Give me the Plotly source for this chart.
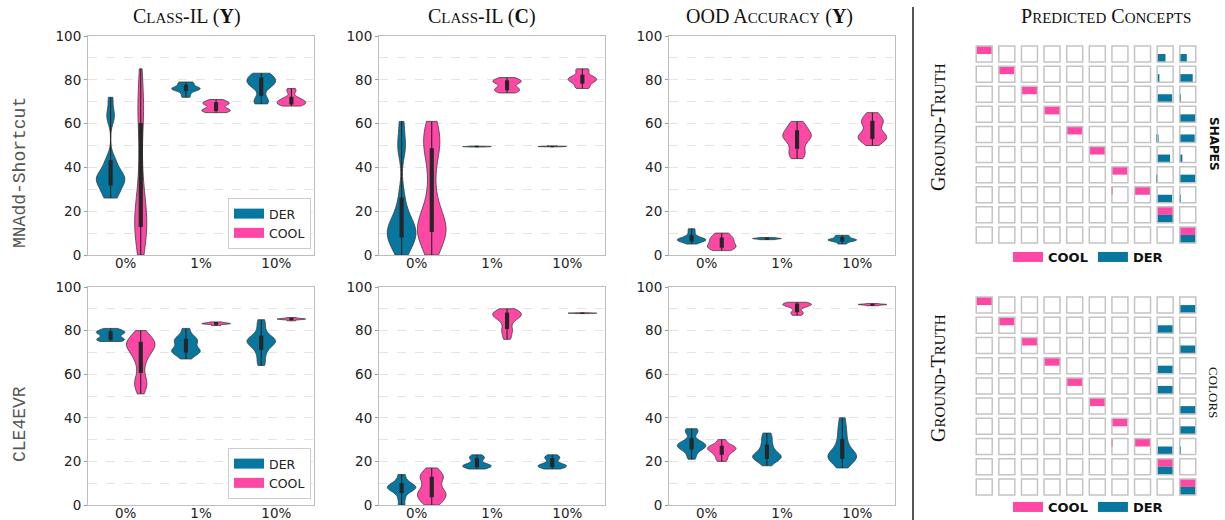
import statistics
import plotly.graph_objects as go

W, H = 1225, 520
DER_C = "#07779f"
COOL_C = "#ff48a5"

categories = ["0%", "1%", "10%"]
methods = ["DER", "COOL"]
row_labels = ["MNAdd-Shortcut", "CLE4EVR"]

# ---- violin samples (estimated per-run accuracies), one list per category ----
mnadd_cil_y_der = [[26, 27, 29, 31, 33, 34, 34.5, 35, 36, 37, 39, 42, 44, 62, 65, 72],
                   [72, 73.5, 75, 75.5, 76, 76, 76.5, 77.5, 78.5, 79],
                   [69, 70, 72, 76, 77.5, 78.5, 79, 80, 81, 82, 83]]
mnadd_cil_y_cool = [[0, 5, 10, 12, 14, 15, 17, 20, 25, 30, 40, 55, 65, 68, 72, 85],
                    [65, 65.5, 66, 66.5, 67, 68.5, 69, 69.5, 70, 71],
                    [68, 68.5, 69, 69.5, 70, 70.5, 71, 72, 74.5, 76]]
mnadd_cil_c_der = [[0, 3, 6, 8, 9, 10, 11, 12, 14, 17, 20, 28, 48, 51, 61],
                   [49.3, 49.4, 49.5, 49.5, 49.6, 49.7],
                   [49.4, 49.5, 49.5, 49.6, 49.6, 49.8]]
mnadd_cil_c_cool = [[0, 5, 8, 10, 11, 12, 13, 15, 18, 22, 30, 40, 48, 50, 53, 56, 61],
                    [74, 74.8, 75.5, 76, 77, 78.5, 79, 79.5, 80, 81],
                    [76, 77, 78.5, 79.5, 80, 80.5, 81, 82, 84, 85]]
mnadd_ood_der = [[5, 6, 6.3, 6.6, 7, 7.2, 7.5, 8, 9, 10.5, 12],
                 [7, 7.2, 7.4, 7.5, 7.6, 7.8, 8],
                 [5, 6, 6.5, 6.8, 7, 7.2, 7.8, 8.5, 9]]
mnadd_ood_cool = [[2, 3, 3.8, 4.5, 5.5, 6.5, 7.5, 8.5, 10],
                  [44, 46, 47.5, 50, 52, 53.5, 54, 55, 56, 57.5, 59, 61],
                  [50, 52, 53, 53.5, 54.5, 55.5, 57, 59.5, 60.5, 61.5, 63, 65]]

cle_cil_y_der = [[75, 75.5, 76, 76.5, 77.5, 78.5, 79, 79.5, 80, 81],
                 [67, 69, 70, 70.5, 71, 72, 73.5, 75, 75.5, 76.5, 78, 81],
                 [64, 67, 70, 72, 73.5, 74.5, 75, 75.5, 76, 77, 79, 82, 85]]
cle_cil_y_cool = [[51, 55, 56, 57, 62, 66, 68, 70, 71.5, 72.5, 73, 74, 74.5, 75, 76, 77, 80],
                  [82.3, 82.9, 83.1, 83.2, 83.4, 83.6, 84],
                  [84.5, 85, 85.2, 85.3, 85.4, 85.6, 86]]
cle_cil_c_der = [[0, 3, 5.5, 6.5, 7.5, 8, 8.5, 9, 10, 11.5, 14],
                 [16.5, 17, 17.5, 18, 18, 18.5, 19, 20.5, 21.5, 22, 23],
                 [16.5, 17, 17.5, 18, 18, 18.5, 19, 20.5, 21.5, 22, 23]]
cle_cil_c_cool = [[0, 1.5, 3, 4, 5, 6, 7, 9, 11, 12.5, 13.5, 14.5, 17],
                  [76, 78, 80, 81, 83.5, 85, 86, 86.5, 87, 87.5, 88, 88.5, 89, 90],
                  [87.8, 87.9, 88, 88, 88.1, 88.2]]
cle_ood_der = [[21, 23, 25, 26, 26.5, 27, 27.5, 28, 28.5, 29.5, 33, 34, 35],
               [18, 20, 21, 21.5, 22, 22.5, 23, 24, 25.5, 27, 29, 31, 33],
               [17, 19, 20.5, 21.5, 22, 22.5, 23, 24, 25.5, 27.5, 30, 33, 36, 40]]
cle_ood_cool = [[20, 21.5, 23, 24, 25, 25.5, 26, 26.5, 27, 28, 30],
                [87, 88, 88.7, 90.5, 91.3, 91.7, 92, 92.2, 92.5, 93],
                [91.4, 91.7, 91.9, 92, 92.1, 92.4]]

# ---- predicted-concept confusion (rows: ground truth, cols: predicted) ----
shapes_cool = [
    [0.96, 0.02, 0, 0, 0, 0, 0, 0, 0, 0],
    [0.02, 0.96, 0, 0, 0, 0, 0, 0, 0, 0],
    [0, 0, 0.96, 0, 0, 0, 0, 0, 0, 0],
    [0, 0, 0, 0.98, 0, 0, 0, 0, 0, 0],
    [0.02, 0, 0, 0, 0.96, 0.02, 0, 0, 0, 0],
    [0, 0, 0, 0, 0.02, 0.96, 0, 0, 0, 0],
    [0, 0, 0, 0, 0, 0, 0.96, 0.02, 0, 0],
    [0, 0, 0, 0, 0, 0, 0.02, 0.96, 0, 0],
    [0, 0, 0, 0, 0, 0, 0, 0, 1.0, 0],
    [0, 0, 0, 0, 0, 0, 0, 0, 0, 1.0],
]
shapes_der = [
    [0, 0, 0, 0, 0, 0, 0, 0, 0.52, 0.44],
    [0, 0, 0, 0, 0, 0, 0, 0, 0.15, 0.80],
    [0, 0, 0, 0, 0, 0, 0, 0, 0.92, 0.06],
    [0, 0, 0, 0, 0, 0, 0, 0, 0, 0.98],
    [0, 0, 0, 0, 0, 0, 0, 0, 0.10, 0.92],
    [0, 0, 0, 0, 0, 0, 0, 0, 0.80, 0.17],
    [0, 0, 0, 0, 0, 0, 0, 0, 0.03, 0.94],
    [0, 0, 0, 0, 0, 0, 0, 0, 0.92, 0.06],
    [0, 0, 0, 0, 0, 0, 0, 0, 1.0, 0],
    [0, 0, 0, 0, 0, 0, 0, 0, 0, 1.0],
]
colors_cool = [
    [1.0, 0, 0, 0, 0, 0, 0, 0, 0, 0],
    [0, 0.98, 0, 0, 0, 0, 0, 0, 0, 0],
    [0, 0, 1.0, 0, 0, 0, 0, 0, 0, 0],
    [0, 0, 0, 1.0, 0, 0, 0, 0, 0, 0],
    [0.02, 0, 0, 0, 0.96, 0, 0, 0, 0, 0],
    [0, 0, 0, 0, 0.02, 0.96, 0, 0, 0, 0],
    [0, 0, 0, 0, 0, 0, 0.98, 0, 0, 0],
    [0, 0, 0, 0, 0, 0, 0.02, 0.98, 0, 0],
    [0, 0, 0, 0, 0, 0, 0, 0, 1.0, 0],
    [0, 0, 0, 0, 0, 0, 0, 0, 0, 1.0],
]
colors_der = [
    [0, 0, 0, 0, 0, 0, 0, 0, 0, 1.0],
    [0, 0, 0, 0, 0, 0, 0, 0, 1.0, 0],
    [0, 0, 0, 0, 0, 0, 0, 0, 0, 1.0],
    [0, 0, 0, 0, 0, 0, 0, 0, 1.0, 0],
    [0, 0, 0, 0, 0, 0, 0, 0, 1.0, 0],
    [0, 0, 0, 0, 0, 0, 0, 0, 0, 1.0],
    [0, 0, 0, 0, 0, 0, 0, 0, 0, 1.0],
    [0, 0, 0, 0, 0, 0, 0, 0, 0.95, 0.05],
    [0, 0, 0, 0, 0, 0, 0, 0, 1.0, 0],
    [0, 0, 0, 0, 0, 0, 0, 0, 0, 1.0],
]

SC = "<span style='font-size:15px'>{}</span>"
col_titles = ["C" + SC.format("LASS") + "-IL (<b>Y</b>)",
              "C" + SC.format("LASS") + "-IL (<b>C</b>)",
              "OOD A" + SC.format("CCURACY") + " (<b>Y</b>)"]
matrix_title = "P" + SC.format("REDICTED") + " C" + SC.format("ONCEPTS")
gt_label = "G" + SC.format("ROUND") + "-T" + SC.format("RUTH")

panels = [
    (mnadd_cil_y_der, mnadd_cil_y_cool), (mnadd_cil_c_der, mnadd_cil_c_cool), (mnadd_ood_der, mnadd_ood_cool),
    (cle_cil_y_der, cle_cil_y_cool), (cle_cil_c_der, cle_cil_c_cool), (cle_ood_der, cle_ood_cool),
]

col_px = [(88, 314), (379, 605), (669, 895)]
row_px = [(36, 255), (287, 505)]


def fx(p):
    return p / W


def fy(p):
    return min(1.0, 1 - p / H)


def kde_bw(s, factor=0.6):
    n = len(s)
    sd = statistics.stdev(s)
    q = statistics.quantiles(s, n=4)
    iqr = q[2] - q[0]
    a = min(sd, iqr / 1.349) if iqr > 0 else sd
    return max(factor * 1.059 * a * n ** -0.2, 1e-3)


fig = go.Figure()
layout = dict()

VIOLIN_W = 0.38
DODGE = 0.2
narrow = {(0, 1, 0): 0.16}  # (panel, method, category) -> narrower violin

for pi, (der, cool) in enumerate(panels):
    r, c = divmod(pi, 3)
    n = pi + 1
    xa, ya = "x%d" % n, "y%d" % n
    for mi, (series, color, off) in enumerate(((der, DER_C, -DODGE), (cool, COOL_C, DODGE))):
        for ci, samples in enumerate(series):
            pos = ci + off
            fig.add_trace(go.Violin(
                y=samples, x0=pos, width=narrow.get((pi, mi, ci), VIOLIN_W),
                bandwidth=kde_bw(samples),
                spanmode="hard", fillcolor=color, opacity=1,
                line=dict(color="#3d3d3d", width=0.8), points=False,
                box_visible=False, meanline_visible=False, showlegend=False,
                hoverinfo="skip", xaxis=xa, yaxis=ya, orientation="v"))
            fig.add_trace(go.Box(
                y=samples, x0=pos, width=0.04, fillcolor="#262626",
                line=dict(color="#262626", width=1.1), whiskerwidth=0,
                boxpoints=False, showlegend=False, hoverinfo="skip",
                xaxis=xa, yaxis=ya))
    x0, x1 = col_px[c]
    y0, y1 = row_px[r]
    axis_common = dict(showline=True, mirror=True, linecolor="#bdbdbd", linewidth=1,
                       zeroline=False, automargin=False,
                       tickfont=dict(family="DejaVu Sans", size=13.5, color="#222"))
    layout["xaxis%d" % n] = dict(domain=[fx(x0), fx(x1)], anchor=ya, range=[-0.5, 2.5],
                                 tickvals=[0, 1, 2], ticktext=categories, showgrid=False,
                                 ticks="", ticklabelstandoff=-4, fixedrange=True, **axis_common)
    layout["yaxis%d" % n] = dict(domain=[fy(y1), fy(y0)], anchor=xa, range=[0, 100],
                                 tick0=0, dtick=20, showgrid=True, gridcolor="#e4e4e4",
                                 griddash="dash", gridwidth=0.8, ticks="outside", ticklen=3,
                                 tickcolor="#9a9a9a",
                                 minor=dict(dtick=10, showgrid=True, gridcolor="#e4e4e4",
                                            griddash="dash", gridwidth=0.8),
                                 fixedrange=True, **axis_common)

# legend proxies for violin panels
for leg in ("legend", "legend2"):
    for name, color in (("DER", DER_C), ("COOL", COOL_C)):
        fig.add_trace(go.Scatter(x=[None], y=[None], mode="lines", name=name,
                                 line=dict(color=color, width=10), legend=leg,
                                 xaxis="x1", yaxis="y1", hoverinfo="skip"))

# ---- concept matrices ----
CELL_W = 0.727
CELL_PAD = (1 - CELL_W) / 2
mat_px = [(46, 243), (297, 495)]
mat_x = (976, 1196)
matrices = [(shapes_cool, shapes_der), (colors_cool, colors_der)]
grid_x = [j + 0.5 for i in range(10) for j in range(10)]
grid_y = [i + 0.5 for i in range(10) for j in range(10)]

for k, (cool_m, der_m) in enumerate(matrices):
    n = 7 + k
    xa, ya = "x%d" % n, "y%d" % n
    for vals, color, yoff in ((cool_m, COOL_C, 0.3), (der_m, DER_C, 0.7)):
        ys, bases, lens = [], [], []
        for i, row in enumerate(vals):
            for j, v in enumerate(row):
                if v > 0:
                    ys.append(i + yoff)
                    bases.append(j + CELL_PAD)
                    lens.append(v * CELL_W)
        fig.add_trace(go.Bar(orientation="h", y=ys, x=lens, base=bases, width=0.4,
                             marker=dict(color=color, line=dict(width=0)),
                             showlegend=False, hoverinfo="skip", cliponaxis=False,
                             xaxis=xa, yaxis=ya))
    fig.add_trace(go.Scatter(x=grid_x, y=grid_y, mode="markers",
                             marker=dict(symbol="square-open", size=16, color="#c4c4c4",
                                         line=dict(width=1.5, color="#c4c4c4")),
                             showlegend=False, hoverinfo="skip", cliponaxis=False,
                             xaxis=xa, yaxis=ya))
    leg = "legend%d" % (3 + k)
    for name, color in (("COOL", COOL_C), ("DER", DER_C)):
        fig.add_trace(go.Scatter(x=[None], y=[None], mode="lines", name="<b>%s</b>" % name,
                                 line=dict(color=color, width=10), legend=leg,
                                 xaxis=xa, yaxis=ya, hoverinfo="skip"))
    y0, y1 = mat_px[k]
    layout["xaxis%d" % n] = dict(domain=[fx(mat_x[0]), fx(mat_x[1])], anchor=ya,
                                 range=[CELL_PAD, 10 - CELL_PAD], visible=False,
                                 fixedrange=True, automargin=False)
    layout["yaxis%d" % n] = dict(domain=[fy(y1), fy(y0)], anchor=xa,
                                 range=[9.9, 0.1], visible=False,
                                 fixedrange=True, automargin=False)

leg_common = dict(bgcolor="white", bordercolor="#cccccc", borderwidth=1,
                  font=dict(family="DejaVu Sans", size=12.5, color="#222"),
                  itemwidth=30, tracegroupgap=0, traceorder="normal")
layout["legend"] = dict(x=fx(311), xanchor="right", y=fy(249), yanchor="bottom", **leg_common)
layout["legend2"] = dict(x=fx(311), xanchor="right", y=fy(499), yanchor="bottom", **leg_common)
mleg = dict(orientation="h", bgcolor="rgba(0,0,0,0)", borderwidth=0,
            font=dict(family="DejaVu Sans", size=13, color="#111"), itemwidth=30,
            traceorder="normal", xanchor="center", yanchor="middle")
layout["legend3"] = dict(x=fx(1088), y=fy(257), **mleg)
layout["legend4"] = dict(x=fx(1088), y=fy(507), **mleg)

# ---- text annotations ----
ann = []
serif = dict(family="Liberation Serif", size=20, color="#111")
for t, xc in zip(col_titles, (187, 482, 769)):
    ann.append(dict(text=t, x=fx(xc), y=fy(16), font=serif))
ann.append(dict(text=matrix_title, x=fx(1106), y=fy(16), font=serif))
for lab, yc in zip(row_labels, (173, 424)):
    ann.append(dict(text=lab, x=fx(20), y=fy(yc), textangle=-90,
                    font=dict(family="Liberation Mono", size=18, color="#555")))
for yc in (127, 378):
    ann.append(dict(text=gt_label, x=fx(938), y=fy(yc), textangle=-90, font=serif))
ann.append(dict(text="<b>SHAPES</b>", x=fx(1214), y=fy(144), textangle=90,
                font=dict(family="DejaVu Sans", size=12, color="#111")))
ann.append(dict(text="COLORS", x=fx(1214), y=fy(392), textangle=90,
                font=dict(family="Liberation Serif", size=13, color="#111")))
for a in ann:
    a.update(xref="paper", yref="paper", showarrow=False, xanchor="center", yanchor="middle")

fig.update_layout(
    width=W, height=H, margin=dict(l=0, r=0, t=0, b=0, autoexpand=False), autosize=False,
    paper_bgcolor="white", plot_bgcolor="white",
    violinmode="overlay", boxmode="overlay", barmode="overlay",
    annotations=ann,
    shapes=[dict(type="line", xref="paper", yref="paper", x0=fx(913), x1=fx(913),
                 y0=fy(7), y1=0, line=dict(color="#555555", width=2))],
    **layout,
)

# remove the browser's default page margin so the 1225x520 figure fills the window exactly
fig.write_html("out.html", config={"displayModeBar": False},
               post_script="document.body.style.margin='0';document.body.style.overflow='hidden';")
